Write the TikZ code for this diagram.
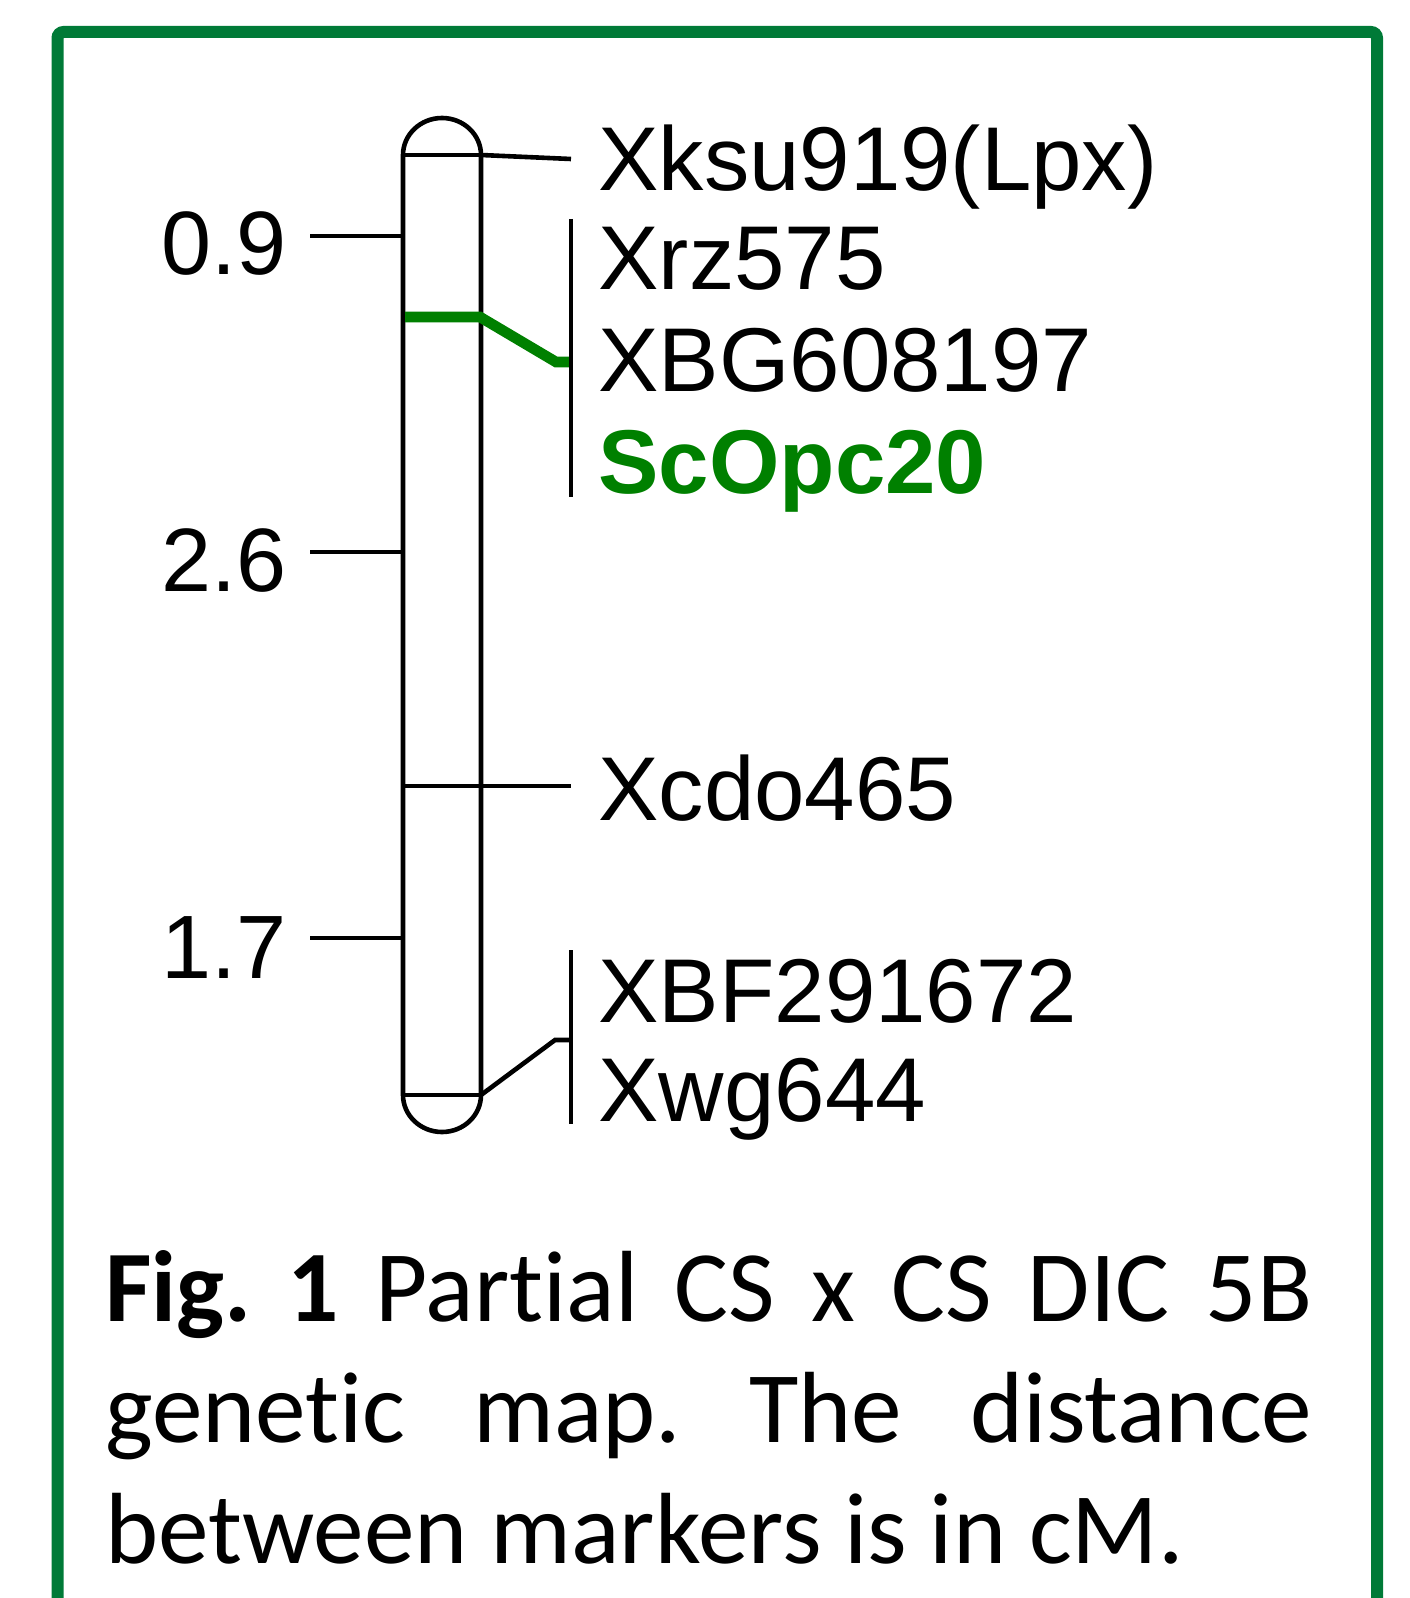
\documentclass[tikz,border=0pt]{standalone}
\usepackage{fontspec}
\setmainfont{Liberation Sans}
\newfontfamily\capfont[Ligatures={NoCommon,NoRare,NoContextual}]{Carlito}
\definecolor{framegreen}{RGB}{0,122,55}
\definecolor{markgreen}{RGB}{0,128,0}
\begin{document}
\begin{tikzpicture}[x=0.5pt,y=-0.5pt,
  chrom/.style={line width=2.3pt,line join=round},
  tickline/.style={line width=2.3pt},
  greenline/.style={line width=5.3pt,markgreen},
  marker/.style={anchor=base west,inner sep=0pt,font=\fontsize{45.3}{54}\selectfont},
  dist/.style={anchor=base east,inner sep=0pt,font=\fontsize{45}{54}\selectfont},
  frame/.style={framegreen,line width=6pt,rounded corners=3pt}
]
\useasboundingbox (0,0) rectangle (1409,1598);
\clip (0,0) rectangle (1409,1598);
% frame
\draw[frame] (57.5,1700) -- (57.5,32) -- (1377,32) -- (1377,1700);
% chromosome
\draw[chrom] (403,155) -- (403,1095)
  .. controls (403,1115.4) and (420.5,1132) .. (442,1132)
  .. controls (463.5,1132) and (481,1115.4) .. (481,1095)
  -- (481,155)
  .. controls (481,134.6) and (463.5,118) .. (442,118)
  .. controls (420.5,118) and (403,134.6) .. (403,155) -- cycle;
\coordinate (capTL) at (403,155);
\coordinate (capTR) at (481,155);
\coordinate (capBL) at (403,1095);
\coordinate (capBR) at (481,1095);
\draw[tickline] (capTL) -- (capTR);
\draw[tickline] (capBL) -- (capBR);
% distance ticks
\coordinate (d1) at (403,236);
\coordinate (d2) at (403,552);
\coordinate (d3) at (403,938);
\node[dist] (n09) at (287,275) {0.9};
\node[dist] (n26) at (287,591) {2.6};
\node[dist] (n17) at (287,978) {1.7};
\draw[tickline] (310,236) -- (d1);
\draw[tickline] (310,552) -- (d2);
\draw[tickline] (310,938) -- (d3);
% marker labels
\node[marker] (m1) at (598,191) {Xksu919(Lpx)};
\node[marker] (m2) at (598,290) {Xrz575};
\node[marker] (m3) at (598,392) {XBG608197};
\node[marker,text=markgreen,font=\fontsize{45.3}{54}\selectfont\bfseries] (m4) at (598,494) {ScOpc20};
\node[marker] (m5) at (598,820) {Xcdo465};
\node[marker] (m6) at (598,1022) {XBF291672};
\node[marker] (m7) at (598,1121) {Xwg644};
% connectors
\coordinate (e1) at (571,159);
\draw[tickline] (capTR) -- (e1);
\coordinate (g0) at (405,317);
\coordinate (g1) at (480,317);
\coordinate (g2) at (556,362);
\coordinate (g3) at (571,362);
\draw[greenline] (g0) -- (g1) -- (g2) -- (g3);
\coordinate (c0) at (403,786);
\coordinate (c1) at (571,786);
\draw[tickline] (c0) -- (c1);
\coordinate (b1) at (555,1040);
\coordinate (b2) at (571,1040);
\draw[tickline] (capBR) -- (b1) -- (b2);
% group bars
\coordinate (u1) at (571,219);
\coordinate (u2) at (571,497);
\draw[tickline] (u1) -- (u2);
\coordinate (l1) at (571,950);
\coordinate (l2) at (571,1124);
\draw[tickline] (l1) -- (l2);
% caption
\node[anchor=base west,inner sep=0pt,text width=603.5pt,align=justify,
  font=\capfont\fontsize{50.6}{60.5}\selectfont\frenchspacing] (caption) at (105,1321)
  {\textbf{Fig. 1} Partial CS x CS DIC 5B\linebreak genetic map. The distance\linebreak between markers is in cM.};
\end{tikzpicture}
\end{document}
